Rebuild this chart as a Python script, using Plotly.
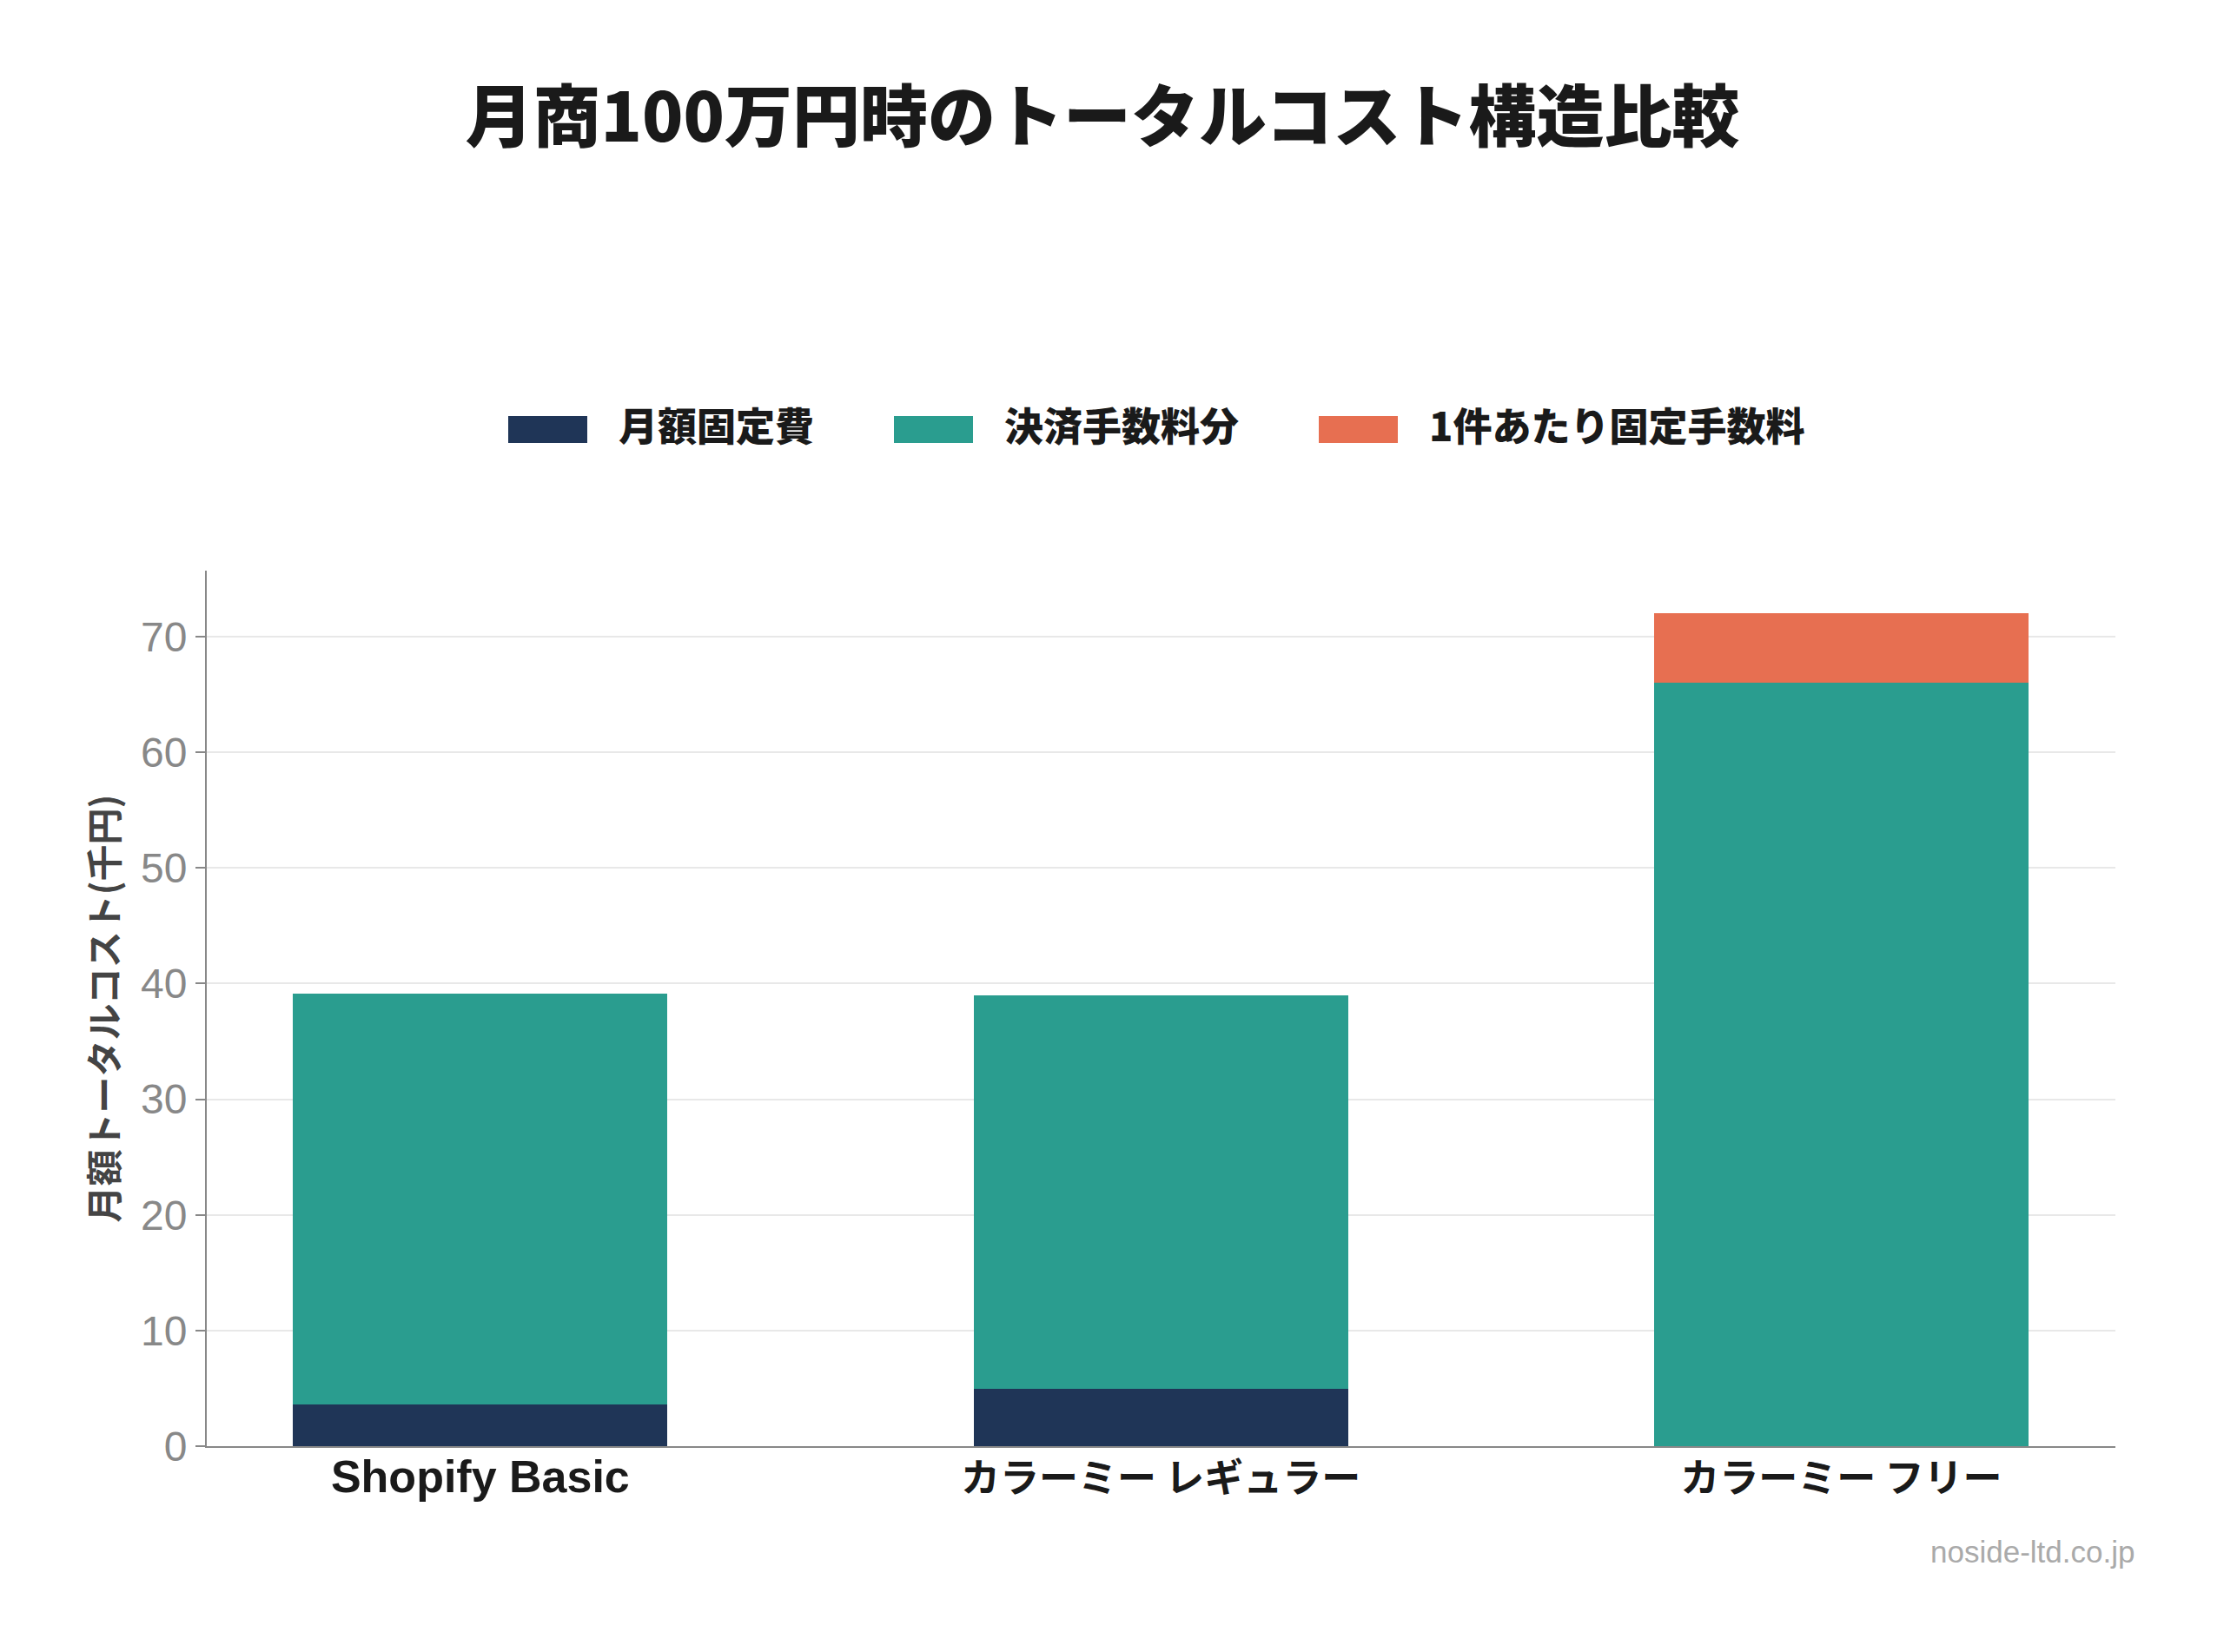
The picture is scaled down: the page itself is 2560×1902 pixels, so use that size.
import plotly.graph_objects as go

categories = ["Shopify Basic", "カラーミー レギュラー", "カラーミー フリー"]
series_names = ["月額固定費", "決済手数料分", "1件あたり固定手数料"]
monthly_fixed = [3.6, 4.95, 0.0]
payment_fee = [35.5, 34.0, 66.0]
per_order_fee = [0.0, 0.0, 6.0]
series_values = [monthly_fixed, payment_fee, per_order_fee]
colors = ["#1f3557", "#2a9d8f", "#e76f51"]
y_ticks = [0, 10, 20, 30, 40, 50, 60, 70]

OFF = 8  # page body margin
W, H = 2560, 1902
L, R, T, B = 230, 133, 649, 245
PW, PH = W - L - R, H - T - B

fig = go.Figure()
for name, vals, col in zip(series_names, series_values, colors):
    fig.add_trace(go.Bar(
        x=categories, y=vals, name=name, marker=dict(color=col, line=dict(width=0)),
        width=0.55, showlegend=False,
    ))

def px2x(px):
    return (px - OFF - L) / PW

def py2y(py):
    return (H - B - (py - OFF)) / PH

# manual legend (wide swatches)
swatch_x = [585, 1029, 1518]
for sx, name, col in zip(swatch_x, series_names, colors):
    fig.add_shape(type="rect", xref="paper", yref="paper",
                  x0=px2x(sx), x1=px2x(sx + 91), y0=py2y(510), y1=py2y(479),
                  fillcolor=col, line=dict(width=0))
    fig.add_annotation(text=name, xref="paper", yref="paper",
                       x=px2x(sx + 91 + 34), y=py2y(489), xanchor="left", yanchor="middle",
                       showarrow=False,
                       font=dict(size=45, color="#1a1a1a", family="Noto Sans CJK JP", weight=900))

fig.add_annotation(text="noside-ltd.co.jp", xref="paper", yref="paper",
                   x=px2x(2459), y=py2y(1786), xanchor="right", yanchor="middle",
                   showarrow=False, font=dict(size=35, color="#aaaaaa", family="Liberation Sans"))

latin = '<span style="font-family:Liberation Sans;font-size:52px">{}</span>'
ticktext = []
for c in categories:
    if c.isascii():
        ticktext.append("<b>" + latin.format(c) + "</b>")
    else:
        ticktext.append("<b>" + c + "</b>")

fig.update_layout(
    width=W, height=H,
    barmode="stack",
    paper_bgcolor="white", plot_bgcolor="white",
    margin=dict(l=L, r=R, t=T, b=B, autoexpand=False),
    title=dict(text="月商100万円時のトータルコスト構造比較", x=(1269 - OFF) / W, xanchor="center",
               y=1 - (136 - OFF) / H, yanchor="middle",
               font=dict(size=78, color="#1a1a1a", family="Noto Sans CJK JP", weight=900)),
    font=dict(family="Noto Sans CJK JP"),
    xaxis=dict(range=[-0.402, 2.403], showgrid=False, showline=True, linecolor="#888888", linewidth=2,
               ticks="", tickfont=dict(size=45, color="#1a1a1a", family="Noto Sans CJK JP"),
               fixedrange=True, ticklabelstandoff=-3,
               tickvals=categories, ticktext=ticktext),
    yaxis=dict(range=[0, 75.7], tickvals=y_ticks, showgrid=True, gridcolor="#e8e8e8", gridwidth=2,
               showline=True, linecolor="#888888", linewidth=2, ticks="outside", ticklen=11,
               tickcolor="#888888", tickwidth=2, zeroline=False,
               tickfont=dict(size=48, color="#888888", family="Liberation Sans"),
               title=dict(text="<b>月額トータルコスト(千円)</b>", standoff=12,
                          font=dict(size=42, color="#444444", family="Noto Sans CJK JP"))),
)

fig.write_html("out.html")
